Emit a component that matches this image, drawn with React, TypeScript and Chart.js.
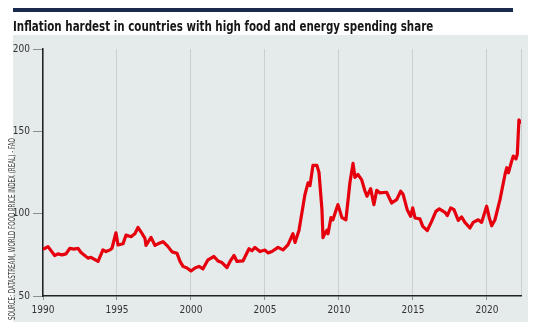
import React, { useEffect, useLayoutEffect, useRef } from 'react';
import { Chart, registerables } from 'chart.js';
Chart.register(...registerables);

const TITLE = 'Inflation hardest in countries with high food and energy spending share';
const SOURCE = 'SOURCE: DATASTREAM, WORLD FOOD PRICE INDEX (REAL) - FAO';

const years = [
  1990.07, 1990.34, 1990.79, 1991.01, 1991.28, 1991.55, 1991.82, 1992.09, 1992.36, 1992.57,
  1993.04, 1993.24, 1993.72, 1994.05, 1994.26, 1994.53, 1994.66, 1994.93, 1995.07, 1995.41,
  1995.61, 1995.95, 1996.22, 1996.42, 1996.62, 1996.89, 1996.96, 1997.3, 1997.57, 1997.77,
  1998.11, 1998.45, 1998.72, 1999.05, 1999.26, 1999.46, 1999.73, 2000.0, 2000.27, 2000.54,
  2000.81, 2001.15, 2001.55, 2001.82, 2002.09, 2002.43, 2002.64, 2002.91, 2003.11, 2003.51,
  2003.92, 2004.12, 2004.32, 2004.66, 2005.0, 2005.2, 2005.47, 2005.88, 2006.22, 2006.55,
  2006.89, 2007.03, 2007.3, 2007.7, 2007.91, 2008.04, 2008.24, 2008.51, 2008.65, 2008.85,
  2008.92, 2009.05, 2009.19, 2009.26, 2009.46, 2009.59, 2009.93, 2010.2, 2010.47, 2010.74,
  2010.95, 2011.08, 2011.28, 2011.53, 2011.76, 2011.89, 2012.14, 2012.36, 2012.55, 2012.77,
  2013.22, 2013.56, 2013.9, 2014.17, 2014.34, 2014.61, 2014.84, 2014.98, 2015.14, 2015.47,
  2015.66, 2015.97, 2016.26, 2016.55, 2016.78, 2017.16, 2017.32, 2017.55, 2017.77, 2018.06,
  2018.29, 2018.51, 2018.85, 2019.07, 2019.41, 2019.64, 2019.98, 2020.16, 2020.32, 2020.54,
  2020.88, 2021.22, 2021.34, 2021.45, 2021.67, 2021.78, 2021.96, 2022.05, 2022.16, 2022.28,
];

const foodPriceIndex = [
  78.7, 80.0, 74.6, 75.6, 75.0, 75.6, 79.0, 78.5, 79.0, 76.4,
  73.0, 73.5, 71.0, 78.0, 77.0, 78.0, 79.0, 88.4, 81.0, 81.7,
  87.0, 86.0, 88.0, 91.7, 89.0, 85.0, 80.7, 85.6, 80.7, 81.7,
  83.0, 80.0, 76.8, 76.0, 71.0, 68.0, 67.0, 65.2, 67.0, 68.0,
  66.5, 72.0, 74.0, 71.3, 70.3, 67.3, 71.0, 74.6, 71.0, 71.3,
  78.7, 77.5, 79.5, 77.0, 77.9, 76.2, 77.0, 79.5, 78.0, 81.0,
  87.8, 82.5, 90.0, 111.6, 118.7, 117.0, 129.3, 129.3, 125.0, 102.4,
  85.4, 88.0, 90.0, 87.8, 97.6, 96.3, 105.5, 97.6, 96.3, 118.9,
  130.5, 122.0, 123.8, 120.7, 113.6, 110.6, 115.2, 105.5, 114.2, 112.6,
  113.0, 106.5, 108.5, 113.6, 111.6, 102.4, 98.4, 103.5, 97.4, 96.8,
  92.3, 89.8, 95.3, 101.4, 102.9, 100.8, 98.8, 103.5, 102.4, 95.9,
  98.0, 94.7, 91.3, 94.7, 96.3, 94.7, 104.5, 97.4, 92.7, 96.3,
  108.5, 123.8, 127.9, 124.8, 131.9, 135.0, 133.3, 136.0, 156.9, 155.7,
];

const xTickYears = [1990, 1995, 2000, 2005, 2010, 2015, 2020];
const yTickValues = [50, 100, 150, 200];
const X_MIN = 1990;
const X_MAX = 2022.3;

const NARROW = "'Liberation Sans Narrow', 'DejaVu Sans Condensed', sans-serif";
const TICK_FONT = { family: NARROW, size: 10 };

function FitText(props: { text: string; width: number; style: React.CSSProperties }) {
  const ref = useRef<HTMLSpanElement | null>(null);
  useLayoutEffect(() => {
    const el = ref.current;
    if (!el) return;
    const w = el.offsetWidth;
    if (w > 0) el.style.transform = `scaleX(${props.width / w})`;
  }, [props.text, props.width]);
  return (
    <span ref={ref} style={{ display: 'inline-block', whiteSpace: 'nowrap', transformOrigin: 'left top', ...props.style }}>
      {props.text}
    </span>
  );
}

const panelPlugin = {
  id: 'panel',
  beforeDraw(chart: any) {
    const ctx = chart.ctx;
    ctx.save();
    ctx.fillStyle = '#e4ebea';
    ctx.fillRect(13, 35, 515, 287);
    ctx.restore();
  },
};

export default function App() {
  const canvasRef = useRef<HTMLCanvasElement | null>(null);

  useEffect(() => {
    if (!canvasRef.current) return;
    const chart = new Chart(canvasRef.current, {
      type: 'line',
      data: {
        datasets: [
          {
            data: years.map((x, i) => ({ x, y: foodPriceIndex[i] })),
            borderColor: '#e6000e',
            borderWidth: 3.2,
            pointRadius: 0,
            tension: 0,
            borderJoinStyle: 'round',
            borderCapStyle: 'round',
          },
        ],
      },
      options: {
        responsive: false,
        animation: false,
        devicePixelRatio: 1,
        layout: { padding: { left: 0, right: 19, top: 49, bottom: 0 } },
        plugins: { legend: { display: false }, tooltip: { enabled: false } },
        scales: {
          x: {
            type: 'linear',
            min: X_MIN,
            max: X_MAX,
            afterBuildTicks: (s: any) => {
              s.ticks = [...xTickYears, X_MAX].map((v) => ({ value: v }));
            },
            afterFit: (s: any) => {
              s.height = 26;
            },
            grid: {
              color: '#c8cfcf',
              lineWidth: 1,
              tickLength: 4,
              tickColor: (ctx: any) =>
                ctx.tick && xTickYears.includes(ctx.tick.value) ? '#8a8f8f' : 'rgba(0,0,0,0)',
            },
            border: { color: '#222', width: 1.5 },
            ticks: {
              callback: (v: any) => (xTickYears.includes(v) ? String(v) : ''),
              font: TICK_FONT,
              color: '#333',
              padding: 4,
              maxRotation: 0,
              autoSkip: false,
            },
          },
          y: {
            min: 50,
            max: 200,
            afterBuildTicks: (s: any) => {
              s.ticks = yTickValues.map((v) => ({ value: v }));
            },
            afterFit: (s: any) => {
              s.width = 43;
            },
            grid: { drawOnChartArea: false, tickLength: 10, tickColor: '#8a8f8f' },
            border: { color: '#222', width: 1.5 },
            ticks: { font: TICK_FONT, color: '#333', padding: 3 },
          },
        },
      },
      plugins: [panelPlugin],
    } as any);
    return () => chart.destroy();
  }, []);

  return (
    <div style={{ position: 'fixed', left: 0, top: 0, width: 540, height: 322, background: '#fff', overflow: 'hidden' }}>
      <canvas ref={canvasRef} width={540} height={322} style={{ position: 'absolute', left: 0, top: 0, width: 540, height: 322 }} />
      <div style={{ position: 'absolute', left: 13, top: 8, width: 500, height: 4, background: '#1a2a4f' }} />
      <div style={{ position: 'absolute', left: 13, top: 17 }}>
        <FitText
          text={TITLE}
          width={420}
          style={{ fontFamily: NARROW, fontSize: 14.5, lineHeight: '14.5px', fontWeight: 'bold', color: '#161616' }}
        />
      </div>
      <div style={{ position: 'absolute', left: 1, top: 320, width: 190, height: 9, transformOrigin: 'left top', transform: 'rotate(-90deg)' }}>
        <FitText
          text={SOURCE}
          width={182}
          style={{ fontFamily: NARROW, fontSize: 8.5, lineHeight: '8.5px', color: '#333' }}
        />
      </div>
    </div>
  );
}
